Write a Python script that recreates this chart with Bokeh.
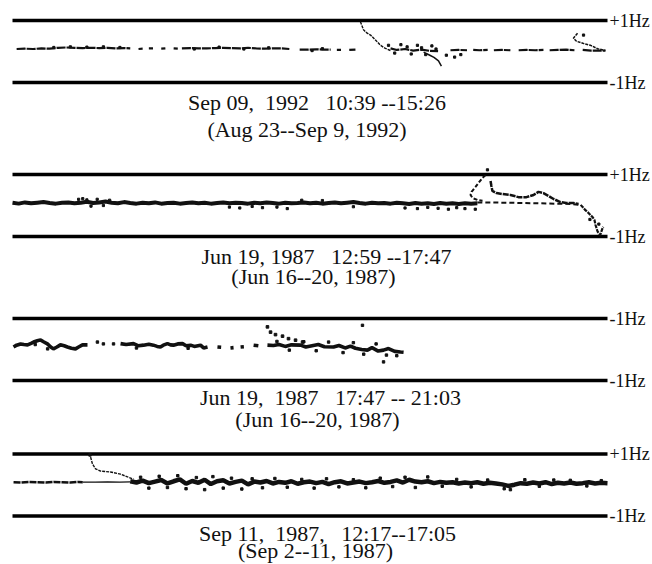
import numpy as np
from bokeh.plotting import figure
from bokeh.models import Range1d
from bokeh.core.properties import value
from bokeh.embed import file_html
from bokeh.resources import INLINE

N = None
# ---------------- data (minutes from window start, frequency offset in Hz) ----------------
# Panel 1: Sep 09, 1992 10:39--15:26
p1_min = [2, 6, 10, 14, 18, 22, 26, 30, 34, 38, 42, 46, 50, 54, 57, N,
          61, 63, N, 66, 68, N, 72, 74, N, 78, 80, N,
          82, 86, 90, 94, 98, 102, 106, 110, 114, 118, 122, 126, 130, 134, N,
          139, 143, 147, 151, 154, N, 157, 159, N, 163, 166, N,
          183, 186, 190, 194, 198, 202, 206, N,
          212, 216, 220, N, 223, 226, 230, N, 233, 237, 241, N,
          245, 249, 253, 257, N, 260, 264, 268, 272, N, 276, 280, 287]
p1_hz = [.08, .09, .08, .10, .09, .12, .13, .12, .11, .12, .11, .12, .10, .11, .10, N,
         .08, .09, N, .10, .10, N, .09, .10, N, .10, .09, N,
         .10, .11, .10, .10, .11, .12, .11, .10, .12, .10, .09, .10, .10, .08, N,
         .06, .06, .07, .06, .06, N, .05, .05, N, .05, .06, N,
         .10, .05, .08, .03, .06, .02, .01, N,
         .04, .05, .04, N, .05, .04, .05, N, .04, .05, .04, N,
         .04, .05, .04, .05, N, .04, .05, .06, .04, N, .05, .03, .03]
p1_branch_a_min = [168.4, 169.9, 171.5, 173.3, 175.7, 178.1, 180.5, 183]
p1_branch_a_hz = [0.96, 0.70, 0.60, 0.53, 0.37, 0.20, 0.10, 0.03]
p1_dip_min = [199, 202, 204, 206.2, 207.6]
p1_dip_hz = [-0.02, -0.12, -0.19, -0.30, -0.47]
p1_branch_b_min = [273.5, 271.5, 273, 276.4, 279.8, 283.2, 287]
p1_branch_b_hz = [0.59, 0.43, 0.33, 0.26, 0.20, 0.09, 0.03]
p1_dots_min = [182, 185, 188, 191, 193, 196, 198, 200, 203, 205, 210, 214, 217, 276.4,
               20, 28, 36, 44, 52, 88, 100, 112, 124, 145, 150]
p1_dots_hz = [0.20, -0.05, 0.22, 0.15, -0.08, 0.20, 0.12, -0.10, 0.18, 0.08, -0.12, -0.18,
              -0.10, 0.53, 0.13, 0.15, 0.14, 0.15, 0.13, 0.08, 0.14, 0.08, 0.12, 0.03, 0.09]

# Panel 2: Jun 19, 1987 12:59--17:47 (main trace sampled every 3 min from 0)
p2_main_hz = [0.09, 0.06, 0.10, 0.07, 0.09, 0.11, 0.08, 0.06, 0.09, 0.10,
              0.07, 0.09, 0.12, 0.08, 0.10, 0.13, 0.09, 0.07, 0.11, 0.08,
              0.06, 0.09, 0.07, 0.10, 0.06, 0.08, 0.09, 0.06, 0.08, 0.10,
              0.07, 0.09, 0.06, 0.08, 0.10, 0.07, 0.09, 0.08, 0.06, 0.09,
              0.07, 0.10, 0.08, 0.06, 0.09, 0.07, 0.08, 0.10, 0.07, 0.09,
              0.06, 0.08, 0.10, 0.07, 0.09, 0.11, 0.08, 0.06, 0.09, 0.07,
              0.08, 0.06, 0.09, 0.07, 0.05, 0.08, 0.06, 0.07, 0.05, 0.08,
              0.06, 0.07, 0.05, 0.07, 0.06, 0.07]
p2_dash_min = [225, 240, 255, 270, 275]
p2_dash_hz = [0.10, 0.09, 0.07, 0.05, 0.02]
p2_tail_min = [275, 277.3, 278.8, 280.7, 281.7, 282.2, 283.2, 284.5, 285.6, 286]
p2_tail_hz = [0.02, -0.15, -0.24, -0.37, -0.47, -0.63, -0.84, -0.95, -0.73, -0.69]
p2_branch_a_min = [229.0, 227.5, 225.6, 224.1, 222.2, 221.7, 222.7, 225, 227.5]
p2_branch_a_hz = [0.98, 0.89, 0.73, 0.60, 0.44, 0.34, 0.24, 0.18, 0.15]
p2_branch_b_min = [231.4, 231.8, 232.3, 234.3, 237.2, 241, 244.9, 248.8, 252.2, 254.6,
                   257, 259.4, 261.9, 265.2, 268.1, 271.5, 274]
p2_branch_b_hz = [0.79, 0.63, 0.47, 0.40, 0.37, 0.34, 0.27, 0.27, 0.34, 0.44,
                  0.40, 0.31, 0.21, 0.11, 0.08, 0.08, 0.05]
p2_dots_min = [32, 34, 36, 38, 41, 44, 47, 105, 110, 116, 121, 128, 133, 140, 150, 165,
               190, 196, 201, 206, 211, 215, 219, 224, 229.9, 279.5, 283.8]
p2_dots_hz = [0.20, 0.22, 0.18, -0.02, 0.20, 0.00, 0.17, -0.05, -0.08, -0.03, -0.07, -0.05,
              -0.10, 0.17, 0.16, -0.04, -0.08, -0.10, -0.06, -0.09, -0.12, -0.07, -0.10,
              -0.12, 1.15, -0.45, -0.60]

# Panel 3: Jun 19, 1987 17:47--21:03
p3_min = [0.5, 2, 3.9, 5.5, 7.3, 9, 10.2, 12, 13.6, 15, 16.9, 18.5, 19.8, 21.5, 23.2, 25,
          26.6, 28.5, 30.5, 32, 33.9, 36.3, N,
          52.3, 55, 58.6, 61, 63.4, 66, 68.2, 70, 71.6, 73, 75, 76.5, 77.9, 80, 82.3, 84,
          86.2, 88, 91, 92.5, 94.4, N,
          99.2, 101, N, 105.5, 107, N, 110.4, 112, N, 116.7, 119, N,
          123.4, 126.3, 129, 132, 135, 139.4, 142, 145, 148, 151, 155.4, 158, 161, 163.6,
          166, 169, 171.8, 174, 177, 179.6, 182, 185, 187.8, 189.3]
p3_hz = [.08, .14, .18, .16, .15, .20, .24, .28, .31, .25, .18, .08, .02, .08, .15, .12,
         .08, .04, .02, .08, .15, .15, N,
         .19, .16, .19, .12, .14, .17, .14, .10, .08, .14, .19, .15, .14, .18, .19, .12,
         .14, .10, .14, .05, .08, N,
         .08, .07, N, .05, .06, N, .08, .09, N, .14, .12, N,
         .14, .13, .16, .10, .15, .14, .08, .12, .16, .09, .08, .13, .05, .11,
         .04, .00, -.02, .06, -.05, -.02, .03, -.06, -.08, -.09]
p3_branch_min = [123.4, 124.9, 127.3, 130.7, 133.6, 137, 140.4]
p3_branch_hz = [0.73, 0.56, 0.48, 0.43, 0.35, 0.30, 0.24]
p3_dots_min = [41.1, 44, 48.9, 169.4, 179.6, 128, 134, 141, 147, 153, 160, 165, 170, 176,
               181, 186, 17, 11, 60, 85]
p3_dots_hz = [0.24, 0.18, 0.18, 0.78, -0.40, 0.26, -0.02, 0.25, -0.04, 0.24, -0.10, 0.22,
              -0.15, 0.18, -0.18, -0.20, 0.02, 0.16, 0.05, 0.04]

# Panel 4: Sep 11, 1987 12:17--17:05
p4_left_min = [0.5, 4, 8, 12, 16, 20, 24, 28, 32, 34]
p4_left_hz = [.09, .08, .10, .09, .08, .10, .09, .08, .10, .09]
p4_thin_min = [34, 40, 46, 52, 57]
p4_thin_hz = [.09, .09, .10, .09, .10]
# main thick trace sampled every 3 min from minute 57
p4_main_hz = [0.12, 0.08, 0.14, 0.06, 0.11, 0.16, 0.05, 0.12, 0.18, 0.04,
              0.13, 0.07, 0.17, 0.03, 0.12, 0.15, 0.05, 0.10, 0.14, 0.02,
              0.11, 0.08, 0.13, 0.05, 0.10, 0.07, 0.12, 0.04, 0.09, 0.11,
              0.06, 0.10, 0.03, 0.09, 0.12, 0.05, 0.08, 0.11, 0.06, 0.09,
              0.13, 0.07, 0.10, 0.15, 0.08, 0.17, 0.11, 0.09, 0.12, 0.06,
              0.10, 0.07, 0.09, 0.05, 0.08, 0.06, 0.09, 0.04, 0.07, 0.05,
              0.02, -0.03, 0.01, 0.06, 0.04, 0.08, 0.05, 0.09, 0.03, 0.07,
              0.05, 0.08, 0.04, 0.06, 0.09, 0.05, 0.07, 0.06]
p4_branch_min = [37.8, 38.7, 40.2, 42.6, 47.4, 52.3, 55.7, 58.6]
p4_branch_hz = [0.90, 0.68, 0.52, 0.45, 0.42, 0.35, 0.26, 0.19]
p4_dots_min = [62, 66, 71, 75, 80, 84, 89, 93, 97, 102, 106, 111, 116, 121, 127, 133, 140,
               146, 152, 158, 165, 171, 178, 184, 190, 195, 201, 208, 215, 222, 230, 238,
               241, 248, 255, 262, 270, 278, 285, 37.5]
p4_dots_hz = [0.25, -0.10, 0.28, -0.08, 0.30, -0.12, 0.24, -0.15, 0.27, -0.10, 0.22, -0.13,
              0.20, -0.09, 0.21, -0.07, 0.18, -0.10, 0.20, -0.06, 0.17, -0.09, 0.22, -0.05,
              0.25, -0.08, 0.26, -0.04, 0.18, -0.06, 0.16, -0.12, -0.15, 0.17, -0.04, 0.16,
              0.15, -0.03, 0.14, 0.97]

NB = "\u00a0"
captions = ["Sep 09," + NB + " 1992" + NB + NB + " 10:39 --15:26", "(Aug 23--Sep 9, 1992)",
            "Jun 19, 1987" + NB + NB + " 12:59 --17:47", "(Jun 16--20, 1987)",
            "Jun 19," + NB + " 1987" + NB + NB + " 17:47 -- 21:03", "(Jun 16--20, 1987)",
            "Sep 11," + NB + " 1987," + NB + NB + " 12:17--17:05", "(Sep 2--11, 1987)"]
hz_labels = [("+1Hz", "-1Hz"), ("+1Hz", "-1Hz"), ("-1Hz", "-1Hz"), ("+1Hz", "-1Hz")]

# ---------------- layout (pixels -> data units) ----------------
W, H = 652, 564
PX_PER_MIN = 595 / 288.0
PX_PER_HZ = 31.0
X0 = 12
def ux(px):
    return (px - X0) / PX_PER_MIN
def uy(px):
    return (H - px) / PX_PER_HZ

mids_px = [51, 205, 349, 484.5]
offs = [uy(m) for m in mids_px]
cap_x_px = [316.5, 306.5, 326, 313, 330, 317, 327, 315]
cap_base_px = [102.3, 128.5, 256, 276, 397, 419, 533, 550]

p = figure(width=W, height=H, output_backend="svg", toolbar_location=None,
           x_range=Range1d(ux(0), ux(W)), y_range=Range1d(0, uy(0)),
           x_axis_type=None, y_axis_type=None, min_border=0,
           outline_line_color=None, background_fill_color="white",
           border_fill_color="white")
p.grid.visible = False

def arr(v):
    return np.array([np.nan if a is None else a for a in v], dtype=float)

def shift(v, k):
    return arr(v) + offs[k]

INK = "#111111"
# reference lines at +/-1 Hz
for k in range(4):
    p.segment(x0=[0, 0], x1=[288, 288], y0=[offs[k] + 1, offs[k] - 1],
              y1=[offs[k] + 1, offs[k] - 1], line_color="black", line_width=3.5)

# panel 1
p.line(arr(p1_min), shift(p1_hz, 0), line_color=INK, line_width=2.2, line_dash="9 1")
p.line(arr(p1_branch_a_min), shift(p1_branch_a_hz, 0), line_color=INK, line_width=1.4, line_dash="3 1")
p.line(arr(p1_dip_min), shift(p1_dip_hz, 0), line_color=INK, line_width=1.5)
p.line(arr(p1_branch_b_min), shift(p1_branch_b_hz, 0), line_color=INK, line_width=1.5, line_dash="3 1")
p.scatter(arr(p1_dots_min), shift(p1_dots_hz, 0), marker="square", size=2.2, color=INK)

# panel 2
p2_t = np.arange(len(p2_main_hz)) * 3.0
p.line(p2_t, arr(p2_main_hz) + offs[1], line_color=INK, line_width=4)
p.line(arr(p2_dash_min), shift(p2_dash_hz, 1), line_color=INK, line_width=2, line_dash="5 3")
p.line(arr(p2_tail_min), shift(p2_tail_hz, 1), line_color=INK, line_width=2.2, line_dash="4 1")
p.line(arr(p2_branch_a_min), shift(p2_branch_a_hz, 1), line_color=INK, line_width=2, line_dash="4 2")
p.line(arr(p2_branch_b_min), shift(p2_branch_b_hz, 1), line_color=INK, line_width=2.5, line_dash="6 1")
p.scatter(arr(p2_dots_min), shift(p2_dots_hz, 1), marker="square", size=2.2, color=INK)

# panel 3
p.line(arr(p3_min), shift(p3_hz, 2), line_color=INK, line_width=3.6)
p.scatter(arr(p3_branch_min), shift(p3_branch_hz, 2), marker="square", size=2.6, color=INK)
p.scatter(arr(p3_dots_min), shift(p3_dots_hz, 2), marker="square", size=2.4, color=INK)

# panel 4
p.line(arr(p4_left_min), shift(p4_left_hz, 3), line_color=INK, line_width=2.5, line_dash="7 1")
p.line(arr(p4_thin_min), shift(p4_thin_hz, 3), line_color=INK, line_width=1.3)
p4_t = 57 + np.arange(len(p4_main_hz)) * 3.0
p.line(p4_t, arr(p4_main_hz) + offs[3], line_color=INK, line_width=4.5)
p.line(arr(p4_branch_min), shift(p4_branch_hz, 3), line_color=INK, line_width=1.4, line_dash="3 1")
p.scatter(arr(p4_dots_min), shift(p4_dots_hz, 3), marker="square", size=2.4, color=INK)

# Hz labels
lab_x, lab_y, lab_t = [], [], []
for k in range(4):
    top, bot = hz_labels[k]
    lab_x += [ux(609), ux(609)]
    lab_y += [offs[k] + 1, offs[k] - 1]
    lab_t += [top, bot]
p.text(x=lab_x, y=lab_y, text=lab_t, text_font=value("Liberation Serif"),
       text_font_size="18px", text_baseline="middle", text_align="left", text_color=INK)

# captions
p.text(x=[ux(v) for v in cap_x_px], y=[uy(v) for v in cap_base_px], text=captions,
       text_font=value("Liberation Serif"), text_font_size="22px",
       text_baseline="alphabetic", text_align="center", text_color=INK)

open("out.html", "w").write(file_html(p, INLINE))
